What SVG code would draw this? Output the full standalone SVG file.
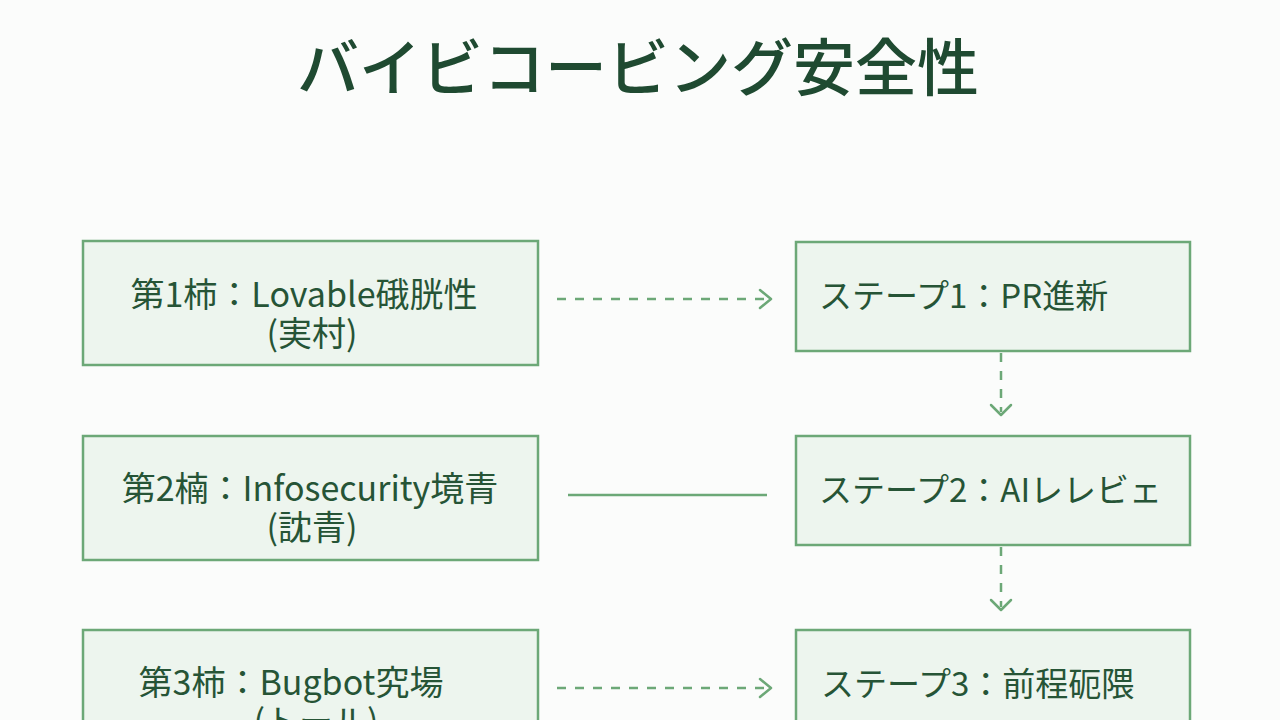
<svg xmlns="http://www.w3.org/2000/svg" width="1280" height="720" viewBox="0 0 1280 720">
<defs>
<style>
.box{fill:#edf5ee;stroke:#6ca877;stroke-width:2.5}
.t{font-family:"Noto Sans CJK JP","Noto Sans",sans-serif;fill:#265436;text-anchor:middle}
.lt{font-size:34px}
.rt{font-size:33px;text-anchor:start}
.title{font-family:"Noto Sans CJK JP","Noto Sans",sans-serif;font-size:62px;font-weight:500;fill:#1f4a31;text-anchor:middle}
.dash{stroke:#6ca877;stroke-width:2.5;fill:none;stroke-dasharray:9 9}
.solid{stroke:#6ca877;stroke-width:2.5;fill:none}
.head{stroke:#6ca877;stroke-width:2.5;fill:none;stroke-linecap:round;stroke-linejoin:round}
</style>
</defs>
<rect width="1280" height="720" fill="#fbfcfb"/>
<text class="title" x="638" y="91">バイビコービング安全性</text>

<g id="connectors">
<line class="dash" x1="557" y1="299" x2="768" y2="299"/>
<polyline class="head" points="760,290 771,299 760,308"/>
<line class="solid" x1="568" y1="495" x2="767" y2="495"/>
<line class="dash" x1="557" y1="688" x2="768" y2="688"/>
<polyline class="head" points="760,679 771,688 760,697"/>
<line class="dash" x1="1001" y1="353" x2="1001" y2="412"/>
<polyline class="head" points="991,405 1001,415 1011,405"/>
<line class="dash" x1="1001" y1="547" x2="1001" y2="607"/>
<polyline class="head" points="991,600 1001,610 1011,600"/>
</g>

<g id="n1">
<rect class="box" x="83" y="241" width="455" height="124"/>
<text class="t lt"><tspan x="304" y="307">第1柿：Lovable硪胱性</tspan><tspan x="312" y="346">(実村)</tspan></text>
</g>
<g id="n2">
<rect class="box" x="83" y="436" width="455" height="124"/>
<text class="t lt"><tspan x="310" y="501">第2楠：Infosecurity境青</tspan><tspan x="312" y="540">(訦青)</tspan></text>
</g>
<g id="n3">
<rect class="box" x="83" y="630" width="455" height="110"/>
<text class="t lt"><tspan x="291" y="695">第3柿：Bugbot究場</tspan><tspan x="316" y="734">(トール)</tspan></text>
</g>
<g id="s1">
<rect class="box" x="796" y="242" width="394" height="109"/>
<text class="t rt" x="819" y="308">ステープ1：PR進新</text>
</g>
<g id="s2">
<rect class="box" x="796" y="436" width="394" height="109"/>
<text class="t rt" x="819" y="502">ステープ2：AIレレビェ</text>
</g>
<g id="s3">
<rect class="box" x="796" y="630" width="394" height="110"/>
<text class="t rt" x="821" y="696">ステープ3：前程砈隈</text>
</g>
</svg>
